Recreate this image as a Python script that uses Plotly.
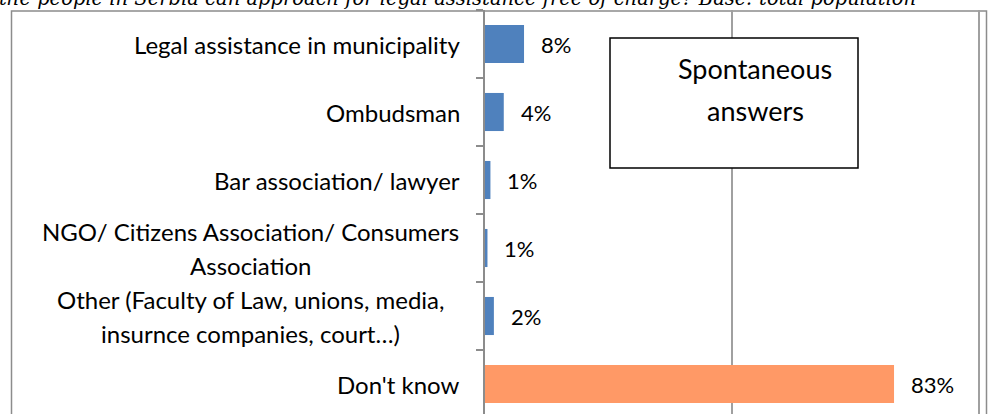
import plotly.graph_objects as go

# ---- data ----
categories = [
    "Legal assistance in municipality",
    "Ombudsman",
    "Bar association/ lawyer",
    "NGO/ Citizens Association/ Consumers\nAssociation",
    "Other (Faculty of Law, unions, media,\ninsurnce companies, court\u2026)",
    "Don't know",
]
values = [7.9, 3.8, 1.1, 0.5, 1.8, 82.8]
value_labels = ["8%", "4%", "1%", "1%", "2%", "83%"]
bar_colors = ["#4F81BD", "#4F81BD", "#4F81BD", "#4F81BD", "#4F81BD", "#FF9966"]
title_text = "the people in Serbia can approach for legal assistance free of charge? Base: total population"
box_lines = ["Spontaneous", "answers"]

W, H = 991, 414
ML, MR, MT, MB = 485, 10, 10, 0
PW = W - ML - MR
PH = H - MT - MB


def px_x(px):
    return (px - ML) / PW


def px_y(py):
    return (H - MB - py) / PH


keys = [str(i) for i in range(len(categories))]

fig = go.Figure()
fig.add_trace(go.Bar(
    x=values, y=keys, orientation="h",
    marker=dict(color=bar_colors, line=dict(width=0)),
    width=0.56, hoverinfo="skip",
))

annotations = []
label_font = dict(family="Lato", size=24, color="#000000")
for k, cat in zip(keys, categories):
    lines = cat.split("\n")
    n = len(lines)
    for i, line in enumerate(lines):
        shift = ((n - 1) / 2 - i) * 34
        annotations.append(dict(
            text=line, xref="paper", yref="y",
            x=px_x(462) if n == 1 else px_x(250), y=k,
            xanchor="right" if n == 1 else "center", yanchor="middle",
            showarrow=False, font=label_font, yshift=shift,
        ))

for k, v, t in zip(keys, values, value_labels):
    annotations.append(dict(
        text=t, xref="x", yref="y", x=v, y=k, xanchor="left", yanchor="middle",
        xshift=15, showarrow=False, font=dict(family="Lato", size=22, color="#000000"),
    ))

for line, cy in zip(box_lines, [68, 110]):
    annotations.append(dict(
        text=line, xref="paper", yref="paper", x=px_x(755), y=px_y(cy),
        xanchor="center", yanchor="middle", showarrow=False,
        font=dict(family="Lato", size=27, color="#000000"),
    ))
annotations.append(dict(
    text="<i>" + title_text + "</i>", xref="paper", yref="paper",
    x=px_x(918), y=px_y(-1), xanchor="right", yanchor="middle", showarrow=False,
    font=dict(family="DejaVu Serif", size=19.5, color="#000000"),
))

shapes = [
    dict(type="rect", xref="paper", yref="paper",
         x0=px_x(11.5), x1=px_x(986.5), y0=px_y(430), y1=px_y(11),
         line=dict(color="#8C8C8C", width=1.5), layer="below"),
    dict(type="rect", xref="paper", yref="paper",
         x0=px_x(610), x1=px_x(858), y0=px_y(168), y1=px_y(38),
         line=dict(color="#000000", width=1.5), fillcolor="#FFFFFF", layer="above"),
]

fig.update_layout(
    width=W, height=H,
    margin=dict(l=ML, r=MR, t=MT, b=MB, pad=0),
    paper_bgcolor="#FFFFFF", plot_bgcolor="#FFFFFF",
    showlegend=False,
    annotations=annotations,
    shapes=shapes,
    xaxis=dict(range=[0, PW / 4.94], tickvals=[50, 100], showticklabels=False,
               showgrid=True, gridcolor="#A0A0A0", gridwidth=1.5, zeroline=False,
               showline=False, fixedrange=True),
    yaxis=dict(type="category", categoryorder="array", categoryarray=keys,
               range=[-0.5 + PH / 68, -0.5], showticklabels=False,
               tickson="boundaries", ticks="outside", ticklen=7, tickcolor="#8C8C8C",
               tickwidth=1.5, showgrid=False, showline=True, linecolor="#8C8C8C",
               linewidth=2, zeroline=False, fixedrange=True),
)

fig.write_html(
    "out.html",
    config={"displayModeBar": False},
    post_script="document.body.style.margin='0';document.body.style.overflow='hidden';",
)
